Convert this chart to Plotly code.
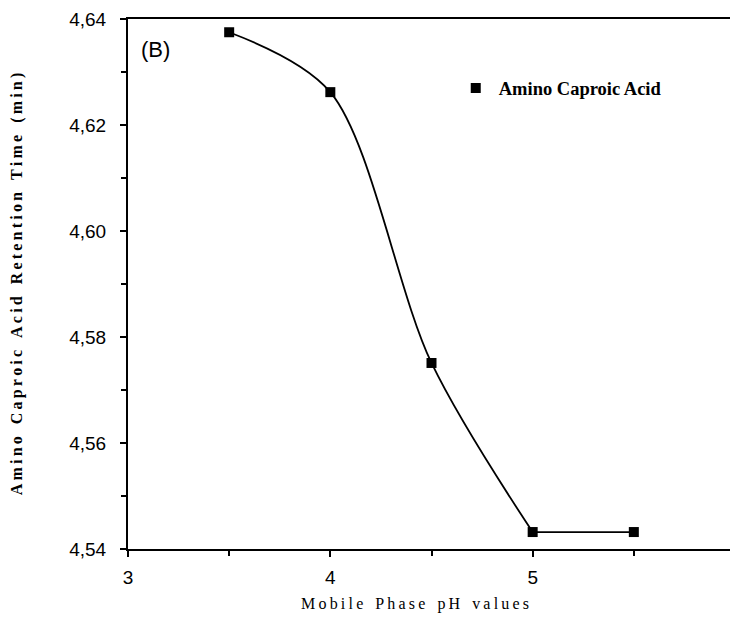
import plotly.graph_objects as go

ph = [3.5, 4.0, 4.5, 5.0, 5.5]
rt = [4.6375, 4.6262, 4.5751, 4.5432, 4.5432]
series_name = "Amino Caproic Acid"
x_title = "Mobile Phase pH values"
y_title = "Amino Caproic Acid Retention Time (min)"
panel_label = "(B)"

def spaced(s, sep="\u2009", word="\u00a0\u00a0\u00a0"):
    return word.join(sep.join(w) for w in s.split(" "))

fig = go.Figure()
# smooth curve through first four points
fig.add_trace(go.Scatter(x=ph[:4], y=rt[:4], mode="lines",
                         line=dict(color="black", width=1.8, shape="spline", smoothing=0.9),
                         showlegend=False, hoverinfo="skip"))
# straight plateau segment
fig.add_trace(go.Scatter(x=ph[3:], y=rt[3:], mode="lines",
                         line=dict(color="black", width=1.8),
                         showlegend=False, hoverinfo="skip"))
fig.add_trace(go.Scatter(x=ph, y=rt, mode="markers", name=series_name,
                         marker=dict(symbol="square", size=10, color="black")))

fig.update_layout(
    width=738, height=623, autosize=False,
    margin=dict(l=120, r=11, t=11, b=82),
    paper_bgcolor="white", plot_bgcolor="white",
    separators=",.",
    showlegend=True,
    legend=dict(x=0.535, y=0.905, xanchor="left", yanchor="top",
                bgcolor="rgba(0,0,0,0)", itemwidth=36,
                font=dict(family="Liberation Serif", size=18.5, color="black", weight="bold")),
    annotations=[
        dict(text=panel_label, x=0.018, y=0.97, xref="paper", yref="paper",
             xanchor="left", yanchor="top", showarrow=False,
             font=dict(family="Liberation Sans", size=22, color="black")),
        dict(text=spaced(x_title), x=0.473, y=-0.104, xref="paper", yref="paper",
             xanchor="center", yanchor="middle", showarrow=False,
             font=dict(family="Liberation Serif", size=16, color="black")),
    ],
)
fig.update_xaxes(range=[3, 6], tickvals=[3, 4, 5, 6], ticktext=["3", "4", "5", "6"],
                 automargin=False,
                 showgrid=False, zeroline=False,
                 showline=True, linecolor="black", linewidth=2, mirror=True,
                 ticks="outside", ticklen=6, tickwidth=2, tickcolor="black",
                 ticklabelstandoff=4,
                 minor=dict(tickvals=[3.5, 4.5, 5.5], ticks="outside", ticklen=5, tickwidth=2, tickcolor="black"),
                 tickfont=dict(family="Liberation Sans", size=19, color="black"))
fig.update_yaxes(range=[4.54, 4.64], tickvals=[4.54, 4.56, 4.58, 4.60, 4.62, 4.64],
                 tickformat=".2f", automargin=False,
                 showgrid=False, zeroline=False,
                 showline=True, linecolor="black", linewidth=2, mirror=True,
                 ticks="outside", ticklen=6, tickwidth=2, tickcolor="black",
                 ticklabelstandoff=10,
                 minor=dict(tickvals=[4.55, 4.57, 4.59, 4.61, 4.63], ticks="outside", ticklen=5, tickwidth=2, tickcolor="black"),
                 tickfont=dict(family="Liberation Sans", size=19, color="black"),
                 title=dict(text="<b>" + spaced(y_title) + "</b>", standoff=48,
                            font=dict(family="Liberation Serif", size=16, color="black")))

fig.write_html("out.html")
